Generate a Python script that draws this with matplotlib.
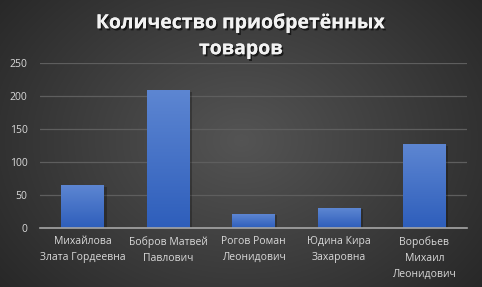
import numpy as np
import matplotlib
matplotlib.use("Agg")
import matplotlib.pyplot as plt
import matplotlib.patheffects as pe

categories = ["Михайлова\nЗлата Гордеевна", "Бобров Матвей\nПавлович", "Рогов Роман\nЛеонидович",
              "Юдина Кира\nЗахаровна", "Воробьев\nМихаил\nЛеонидович"]
values = [64, 208, 21, 30, 126]
yticks = [0, 50, 100, 150, 200, 250]
title = "Количество приобретённых\nтоваров"

plt.rcParams['font.family'] = ['Open Sans', 'DejaVu Sans']

fig = plt.figure(figsize=(4.82, 2.87), dpi=100)

# background radial gradient
bg = fig.add_axes([0, 0, 1, 1])
bg.set_axis_off()
yy, xx = np.mgrid[0:287, 0:482]
cx, cy = 241, 140
r = np.sqrt(((xx - cx) / 300.0) ** 2 + ((yy - cy) / 230.0) ** 2)
v = np.clip(0.33 - 0.17 * r, 0.15, 0.34)
img = np.dstack([v, v, v])
bg.imshow(img, aspect='auto', extent=[0, 1, 0, 1], origin='upper')
bg.set_xlim(0, 1); bg.set_ylim(0, 1)

ax = fig.add_axes([40 / 482, 1 - 228 / 287, 427 / 482, 165 / 287])
ax.patch.set_alpha(0)
x = np.arange(len(categories))
bars = ax.bar(x, values, width=0.5, color='none', zorder=3)
grad = np.linspace(0, 1, 256).reshape(-1, 1)
top = np.array([0x5d, 0x86, 0xd2]) / 255
bot = np.array([0x2e, 0x5e, 0xbb]) / 255
gimg = top[None, None, :] * (1 - grad[:, :, None]) + bot[None, None, :] * grad[:, :, None]
for b in bars:
    x0, w, h = b.get_x(), b.get_width(), b.get_height()
    # shadow
    ax.bar(x0 + w / 2 + 0.03, h, width=w, bottom=-1.5, color='black', alpha=0.25, zorder=2)
    ax.imshow(gimg, aspect='auto', extent=[x0, x0 + w, 0, h], origin='upper', zorder=3)

ax.set_xlim(-0.5, len(categories) - 0.5)
ax.set_ylim(0, 250)
ax.set_yticks(yticks)
ax.set_xticks(x)
ax.set_xticklabels(categories, fontsize=7.5, color='#d9d9d9', linespacing=1.6)
ax.tick_params(axis='y', labelsize=7.5, labelcolor='#d9d9d9', length=0, pad=9)
ax.tick_params(axis='x', length=0, pad=6)
ax.grid(axis='y', color='#5e5e5e', linewidth=0.9, zorder=0)
for s in ['top', 'right', 'left']:
    ax.spines[s].set_visible(False)
ax.spines['bottom'].set_color('#a6a6a6')
ax.spines['bottom'].set_linewidth(1.2)
ax.spines['bottom'].set_zorder(4)

fig.text(0.5, 1 - 36 / 287, title, ha='center', va='center', fontsize=14, fontweight='bold',
         color='#f2f2f2', linespacing=1.4,
         path_effects=[pe.withSimplePatchShadow(offset=(1.2, -1.5), shadow_rgbFace='black', alpha=0.6), pe.Normal()])

fig.savefig('out.png', dpi=100)
